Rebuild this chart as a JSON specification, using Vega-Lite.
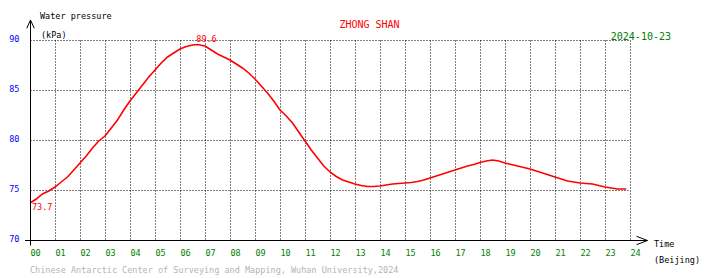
{
  "$schema": "https://vega.github.io/schema/vega-lite/v6.json",
  "width": 600,
  "height": 200,
  "autosize": "none",
  "padding": {"left": 30, "top": 40, "right": 80, "bottom": 38},
  "background": "white",
  "config": {
    "view": {"stroke": null},
    "font": "DejaVu Sans Mono",
    "text": {"font": "DejaVu Sans Mono"},
    "axisX": {
      "labelExpr": "datum.value < 10 ? '0' + datum.value : '' + datum.value",
      "title": null, "domain": false, "ticks": false,
      "grid": true, "gridColor": "#000000", "gridDash": [1, 2], "gridWidth": 1, "gridOpacity": 1,
      "labelColor": "#008000", "labelFont": "DejaVu Sans Mono", "labelFontSize": 8.5,
      "labelAlign": "left", "labelBaseline": "top", "labelPadding": 8, "labelFlush": false,
      "labelOverlap": false, "labelBound": false
    },
    "axisY": {
      "title": null, "domain": false, "ticks": false,
      "grid": true, "gridColor": "#000000", "gridDash": [1, 2], "gridWidth": 1, "gridOpacity": 1,
      "labelColor": "#0000ff", "labelFont": "DejaVu Sans Mono", "labelFontSize": 8.5,
      "labelAlign": "right", "labelBaseline": "middle", "labelOffset": -2, "labelPadding": 11,
      "labelFlush": false, "labelOverlap": false, "labelBound": false
    }
  },
  "datasets": {
    "one": [{}],
    "pressure": [
      {"t": 0, "p": 73.7}, {"t": 0.25, "p": 74.1}, {"t": 0.5, "p": 74.6}, {"t": 0.75, "p": 74.9},
      {"t": 1, "p": 75.3}, {"t": 1.25, "p": 75.8}, {"t": 1.5, "p": 76.3}, {"t": 1.75, "p": 77.0},
      {"t": 2, "p": 77.7}, {"t": 2.25, "p": 78.4}, {"t": 2.5, "p": 79.2}, {"t": 2.75, "p": 79.9},
      {"t": 3, "p": 80.4}, {"t": 3.25, "p": 81.2}, {"t": 3.5, "p": 82.0}, {"t": 3.75, "p": 83.0},
      {"t": 4, "p": 83.9}, {"t": 4.25, "p": 84.7}, {"t": 4.5, "p": 85.5}, {"t": 4.75, "p": 86.3},
      {"t": 5, "p": 87.0}, {"t": 5.25, "p": 87.7}, {"t": 5.5, "p": 88.3}, {"t": 5.75, "p": 88.7},
      {"t": 6, "p": 89.1}, {"t": 6.25, "p": 89.35}, {"t": 6.5, "p": 89.5}, {"t": 6.7, "p": 89.55},
      {"t": 7, "p": 89.4}, {"t": 7.25, "p": 89.0}, {"t": 7.5, "p": 88.6}, {"t": 7.75, "p": 88.3},
      {"t": 8, "p": 88.0}, {"t": 8.25, "p": 87.6}, {"t": 8.5, "p": 87.2}, {"t": 8.75, "p": 86.7},
      {"t": 9, "p": 86.1}, {"t": 9.25, "p": 85.4}, {"t": 9.5, "p": 84.7}, {"t": 9.75, "p": 83.9},
      {"t": 10, "p": 83.0}, {"t": 10.25, "p": 82.4}, {"t": 10.5, "p": 81.7}, {"t": 10.75, "p": 80.8},
      {"t": 11, "p": 79.9}, {"t": 11.25, "p": 79.0}, {"t": 11.5, "p": 78.2}, {"t": 11.75, "p": 77.4},
      {"t": 12, "p": 76.8}, {"t": 12.25, "p": 76.35}, {"t": 12.5, "p": 76.0}, {"t": 12.75, "p": 75.8},
      {"t": 13, "p": 75.6}, {"t": 13.25, "p": 75.45}, {"t": 13.5, "p": 75.35}, {"t": 13.75, "p": 75.35},
      {"t": 14, "p": 75.4}, {"t": 14.25, "p": 75.5}, {"t": 14.5, "p": 75.6}, {"t": 14.75, "p": 75.65},
      {"t": 15, "p": 75.7}, {"t": 15.25, "p": 75.75}, {"t": 15.5, "p": 75.85}, {"t": 15.75, "p": 76.0},
      {"t": 16, "p": 76.2}, {"t": 16.25, "p": 76.4}, {"t": 16.5, "p": 76.6}, {"t": 16.75, "p": 76.8},
      {"t": 17, "p": 77.0}, {"t": 17.25, "p": 77.2}, {"t": 17.5, "p": 77.4}, {"t": 17.75, "p": 77.55},
      {"t": 18, "p": 77.75}, {"t": 18.25, "p": 77.9}, {"t": 18.5, "p": 78.0}, {"t": 18.75, "p": 77.9},
      {"t": 19, "p": 77.7}, {"t": 19.25, "p": 77.55}, {"t": 19.5, "p": 77.4}, {"t": 19.75, "p": 77.25},
      {"t": 20, "p": 77.1}, {"t": 20.25, "p": 76.9}, {"t": 20.5, "p": 76.7}, {"t": 20.75, "p": 76.5},
      {"t": 21, "p": 76.3}, {"t": 21.25, "p": 76.1}, {"t": 21.5, "p": 75.9}, {"t": 21.75, "p": 75.8},
      {"t": 22, "p": 75.7}, {"t": 22.25, "p": 75.65}, {"t": 22.5, "p": 75.6}, {"t": 22.75, "p": 75.45},
      {"t": 23, "p": 75.3}, {"t": 23.25, "p": 75.2}, {"t": 23.5, "p": 75.1}, {"t": 23.85, "p": 75.1}
    ]
  },
  "encoding": {
    "x": {
      "type": "quantitative",
      "scale": {"domain": [0, 24], "nice": false, "zero": false},
      "axis": {"values": [0,1,2,3,4,5,6,7,8,9,10,11,12,13,14,15,16,17,18,19,20,21,22,23,24]}
    },
    "y": {
      "type": "quantitative",
      "scale": {"domain": [70, 90], "nice": false, "zero": false},
      "axis": {"values": [70, 75, 80, 85, 90]}
    }
  },
  "layer": [
    {
      "data": {"name": "pressure"},
      "mark": {"type": "line", "color": "#ff0000", "strokeWidth": 1.6},
      "encoding": {
        "x": {"field": "t", "type": "quantitative", "axis": {"values": [0,1,2,3,4,5,6,7,8,9,10,11,12,13,14,15,16,17,18,19,20,21,22,23,24]}},
        "y": {"field": "p", "type": "quantitative", "axis": {"values": [70, 75, 80, 85, 90]}}
      }
    },
    {
      "data": {"name": "one"},
      "mark": {"type": "rule", "color": "#000000", "strokeWidth": 1},
      "encoding": {"x": {"datum": 0.02, "axis": {"values": [0,1,2,3,4,5,6,7,8,9,10,11,12,13,14,15,16,17,18,19,20,21,22,23,24]}}, "y": {"datum": 92, "axis": {"values": [70, 75, 80, 85, 90]}}, "y2": {"datum": 69.45}}
    },
    {
      "data": {"name": "one"},
      "mark": {"type": "rule", "color": "#000000", "strokeWidth": 1},
      "encoding": {"y": {"datum": 69.95, "axis": {"values": [70, 75, 80, 85, 90]}}, "x": {"datum": -0.2, "axis": {"values": [0,1,2,3,4,5,6,7,8,9,10,11,12,13,14,15,16,17,18,19,20,21,22,23,24]}}, "x2": {"datum": 24.7}}
    },
    {
      "data": {"name": "one"},
      "mark": {"type": "point", "shape": "M-0.45,1L0,0L0.45,1", "filled": false, "stroke": "#000000", "strokeWidth": 1, "size": 275, "opacity": 1},
      "encoding": {"x": {"datum": 0.02, "axis": {"values": [0,1,2,3,4,5,6,7,8,9,10,11,12,13,14,15,16,17,18,19,20,21,22,23,24]}}, "y": {"datum": 92, "axis": {"values": [70, 75, 80, 85, 90]}}}
    },
    {
      "data": {"name": "one"},
      "mark": {"type": "point", "shape": "M-1,-0.38L0,0L-1,0.38", "filled": false, "stroke": "#000000", "strokeWidth": 1, "size": 484, "opacity": 1},
      "encoding": {"x": {"datum": 24.7, "axis": {"values": [0,1,2,3,4,5,6,7,8,9,10,11,12,13,14,15,16,17,18,19,20,21,22,23,24]}}, "y": {"datum": 69.95, "axis": {"values": [70, 75, 80, 85, 90]}}}
    },
    {
      "data": {"name": "one"},
      "mark": {"type": "text", "text": "73.7", "color": "#ff0000", "fontSize": 8.5, "align": "left", "baseline": "middle", "dx": 2, "dy": 4},
      "encoding": {"x": {"datum": 0, "axis": {"values": [0,1,2,3,4,5,6,7,8,9,10,11,12,13,14,15,16,17,18,19,20,21,22,23,24]}}, "y": {"datum": 73.7, "axis": {"values": [70, 75, 80, 85, 90]}}}
    },
    {
      "data": {"name": "one"},
      "mark": {"type": "text", "text": "89.6", "color": "#ff0000", "fontSize": 8.5, "align": "center", "baseline": "middle", "dy": -5},
      "encoding": {"x": {"datum": 7.06, "axis": {"values": [0,1,2,3,4,5,6,7,8,9,10,11,12,13,14,15,16,17,18,19,20,21,22,23,24]}}, "y": {"datum": 89.6, "axis": {"values": [70, 75, 80, 85, 90]}}}
    },
    {
      "data": {"name": "one"},
      "mark": {"type": "text", "text": "Water pressure", "color": "#000000", "fontSize": 8.5, "align": "left", "baseline": "middle"},
      "encoding": {"x": {"datum": 0.4, "axis": {"values": [0,1,2,3,4,5,6,7,8,9,10,11,12,13,14,15,16,17,18,19,20,21,22,23,24]}}, "y": {"datum": 92.4, "axis": {"values": [70, 75, 80, 85, 90]}}}
    },
    {
      "data": {"name": "one"},
      "mark": {"type": "text", "text": "(kPa)", "color": "#000000", "fontSize": 8.5, "align": "left", "baseline": "middle"},
      "encoding": {"x": {"datum": 0.44, "axis": {"values": [0,1,2,3,4,5,6,7,8,9,10,11,12,13,14,15,16,17,18,19,20,21,22,23,24]}}, "y": {"datum": 90.55, "axis": {"values": [70, 75, 80, 85, 90]}}}
    },
    {
      "data": {"name": "one"},
      "mark": {"type": "text", "text": "ZHONG SHAN", "color": "#ff0000", "fontSize": 10, "align": "center", "baseline": "middle"},
      "encoding": {"x": {"datum": 13.58, "axis": {"values": [0,1,2,3,4,5,6,7,8,9,10,11,12,13,14,15,16,17,18,19,20,21,22,23,24]}}, "y": {"datum": 91.5, "axis": {"values": [70, 75, 80, 85, 90]}}}
    },
    {
      "data": {"name": "one"},
      "mark": {"type": "text", "text": "2024-10-23", "color": "#008000", "fontSize": 10, "align": "right", "baseline": "middle"},
      "encoding": {"x": {"datum": 25.64, "axis": {"values": [0,1,2,3,4,5,6,7,8,9,10,11,12,13,14,15,16,17,18,19,20,21,22,23,24]}}, "y": {"datum": 90.35, "axis": {"values": [70, 75, 80, 85, 90]}}}
    },
    {
      "data": {"name": "one"},
      "mark": {"type": "text", "text": "Time", "color": "#000000", "fontSize": 8.5, "align": "left", "baseline": "middle"},
      "encoding": {"x": {"datum": 24.96, "axis": {"values": [0,1,2,3,4,5,6,7,8,9,10,11,12,13,14,15,16,17,18,19,20,21,22,23,24]}}, "y": {"datum": 69.6, "axis": {"values": [70, 75, 80, 85, 90]}}}
    },
    {
      "data": {"name": "one"},
      "mark": {"type": "text", "text": "(Beijing)", "color": "#000000", "fontSize": 8.5, "align": "left", "baseline": "middle"},
      "encoding": {"x": {"datum": 24.96, "axis": {"values": [0,1,2,3,4,5,6,7,8,9,10,11,12,13,14,15,16,17,18,19,20,21,22,23,24]}}, "y": {"datum": 68.0, "axis": {"values": [70, 75, 80, 85, 90]}}}
    },
    {
      "data": {"name": "one"},
      "mark": {"type": "text", "text": "Chinese Antarctic Center of Surveying and Mapping, Wuhan University,2024", "color": "#b4b4b4", "fontSize": 8.5, "align": "left", "baseline": "middle"},
      "encoding": {"x": {"datum": 0, "axis": {"values": [0,1,2,3,4,5,6,7,8,9,10,11,12,13,14,15,16,17,18,19,20,21,22,23,24]}}, "y": {"datum": 67.0, "axis": {"values": [70, 75, 80, 85, 90]}}}
    }
  ]
}
